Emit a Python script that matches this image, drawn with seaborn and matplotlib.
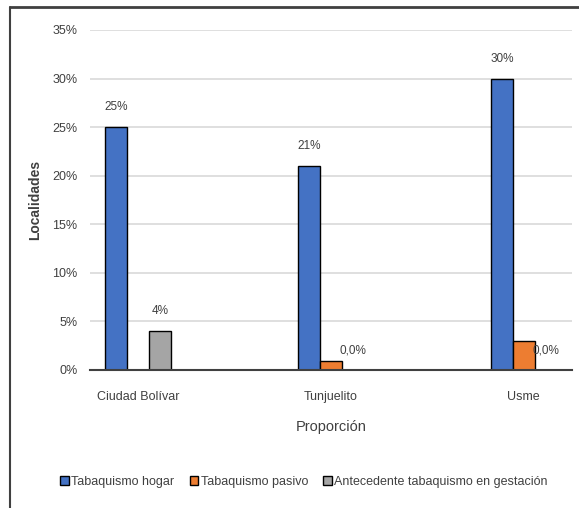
import matplotlib
matplotlib.use("Agg")
import matplotlib.pyplot as plt
import seaborn as sns
import pandas as pd
from matplotlib.lines import Line2D
from matplotlib.patches import Rectangle

categories = ["Ciudad Bolívar", "Tunjuelito", "Usme"]
series = ["Tabaquismo hogar", "Tabaquismo pasivo", "Antecedente tabaquismo en gestación"]
hogar = [25, 21, 30]
pasivo = [0, 0.9, 3]
gestacion = [4, 0, 0]
labels_hogar = ["25%", "21%", "30%"]
labels_gestacion = ["4%", "0,0%", "0,0%"]
yticks = [0, 5, 10, 15, 20, 25, 30, 35]
colors = ["#4472C4", "#ED7D31", "#A5A5A5"]

sns.set_theme(style="white")
plt.rcParams['font.family'] = ['Liberation Sans', 'DejaVu Sans']

df = pd.DataFrame({
    "Localidad": categories * 3,
    "Serie": [series[0]] * 3 + [series[1]] * 3 + [series[2]] * 3,
    "Valor": hogar + pasivo + gestacion,
})

fig = plt.figure(figsize=(5.79, 5.08), dpi=100)
ax = fig.add_axes([90 / 579, 1 - 370 / 508, (572 - 90) / 579, (370 - 30) / 508])

sns.barplot(data=df, x="Localidad", y="Valor", hue="Serie", palette=colors,
            width=0.34, gap=0, edgecolor="black", linewidth=1.0, ax=ax,
            legend=False, saturation=1)

ax.set_xlim(-0.25, 2.25)
ax.set_ylim(0, 35)
ax.set_yticks(yticks)
ax.set_yticklabels([f"{t}%" for t in yticks], color="#404040", fontsize=9)
ax.tick_params(axis="x", colors="#404040", labelsize=9, length=0, pad=15)
ax.tick_params(axis="y", length=0, pad=9)
ax.yaxis.grid(True, color="#D9D9D9", linewidth=1.2)
ax.set_axisbelow(True)
for s in ["top", "right", "left"]:
    ax.spines[s].set_visible(False)
ax.spines["bottom"].set_color("#404040")
ax.spines["bottom"].set_linewidth(1.5)

ax.set_xlabel("Proporción", fontsize=10.5, color="#404040", labelpad=12)
ax.set_ylabel("Localidades", fontsize=10, color="#404040", fontweight="bold", labelpad=7)

# Labels
containers = ax.containers
ax.bar_label(containers[0], labels=labels_hogar, padding=10, fontsize=8.5, color="#404040")
ax.bar_label(containers[2], labels=labels_gestacion, padding=10, fontsize=8.5, color="#404040")

# Legend
handles = [Rectangle((0, 0), 1, 1, facecolor=c, edgecolor="black", linewidth=1) for c in colors]
fig.legend(handles, series, loc="center", bbox_to_anchor=(304 / 579, 1 - 482 / 508),
           ncol=3, frameon=False, fontsize=9, handlelength=0.7, handleheight=0.7,
           handletextpad=0.2, columnspacing=1.2, labelcolor="#404040")

# Border
fig.add_artist(Line2D([10 / 579, 1], [1 - 7 / 508, 1 - 7 / 508], transform=fig.transFigure,
                      color="#404040", linewidth=2))
fig.add_artist(Line2D([10 / 579, 10 / 579], [0, 1 - 7 / 508], transform=fig.transFigure,
                      color="#404040", linewidth=1.5))

fig.savefig("out.png", dpi=100)
